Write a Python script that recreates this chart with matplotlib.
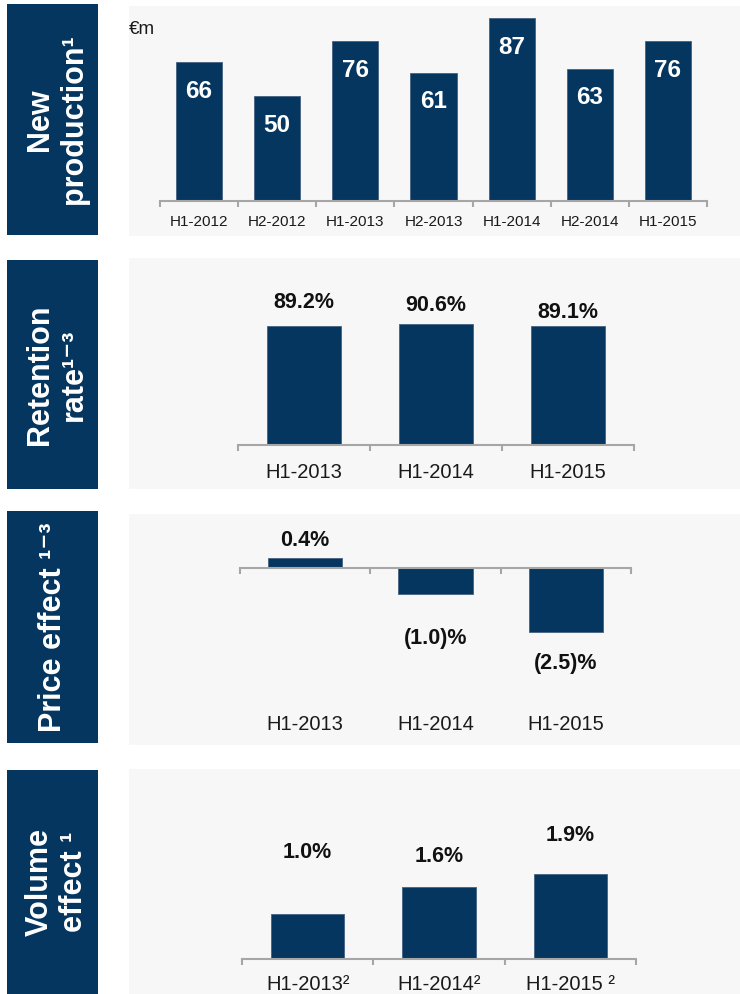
import matplotlib
matplotlib.use('Agg')
import matplotlib.pyplot as plt
from matplotlib.patches import Rectangle
import numpy as np

plt.rcParams['font.family'] = ['Liberation Sans', 'DejaVu Sans']

# ---------------- data ----------------
prod_cats = ['H1-2012', 'H2-2012', 'H1-2013', 'H2-2013', 'H1-2014', 'H2-2014', 'H1-2015']
prod_vals = [66, 50, 76, 61, 87, 63, 76]

ret_cats = ['H1-2013', 'H1-2014', 'H1-2015']
ret_vals = [89.2, 90.6, 89.1]

price_cats = ['H1-2013', 'H1-2014', 'H1-2015']
price_vals = [0.4, -1.0, -2.5]

vol_cats = ['H1-2013²', 'H1-2014²', 'H1-2015 ²']
vol_vals = [1.0, 1.6, 1.9]

NAVY = '#053660'
BG = '#F7F7F7'
AXC = '#A6A6A6'
W, H = 740, 994

fig = plt.figure(figsize=(W / 100, H / 100), dpi=100)


def px_rect(l, t, r, b, color):
    fig.add_artist(Rectangle((l / W, 1 - b / H), (r - l) / W, (b - t) / H,
                             transform=fig.transFigure, facecolor=color,
                             edgecolor='none', zorder=0))


def px_axes(l, t, r, b):
    ax = fig.add_axes([l / W, 1 - b / H, (r - l) / W, (b - t) / H])
    ax.patch.set_alpha(0)
    return ax


def side_label(t, b, text, x=57):
    px_rect(7, t, 98, b, NAVY)
    fig.text(x / W, 1 - (t + b) / 2 / H, text, rotation=90, color='white',
             fontsize=22, fontweight='bold', ha='center', va='center',
             multialignment='center', linespacing=1.2)


def style_axis(ax, n, cats, label_dy, fs, xy_frac=False):
    ax.set_xlim(-0.5, n - 0.5)
    for s in ['top', 'right', 'left']:
        ax.spines[s].set_visible(False)
    ax.spines['bottom'].set_position(('data', 0))
    ax.spines['bottom'].set_color(AXC)
    ax.spines['bottom'].set_linewidth(1.5)
    ax.set_yticks([])
    ax.set_xticks([])
    ax.set_xticks(np.arange(-0.5, n, 1.0), minor=True)
    ax.tick_params(axis='x', which='minor', direction='out', length=4,
                   width=1.5, color=AXC, labelbottom=False)
    for i, c in enumerate(cats):
        if xy_frac:
            ax.annotate(c, xy=(i, 0), xycoords=('data', 'axes fraction'),
                        xytext=(0, label_dy), textcoords='offset pixels',
                        ha='center', va='center', fontsize=fs, color='#1a1a1a')
        else:
            ax.annotate(c, xy=(i, 0), xytext=(0, label_dy),
                        textcoords='offset pixels', ha='center', va='center',
                        fontsize=fs, color='#1a1a1a')


# ---------------- panel 1: new production ----------------
px_rect(129, 6, 740, 236, BG)
side_label(4, 235, 'New\nproduction¹')
ax1 = px_axes(160, 6, 707, 201)
ax1.bar(range(len(prod_vals)), prod_vals, width=0.59, color=NAVY,
        edgecolor='#46627f', linewidth=0.6)
ax1.set_ylim(0, 195 / 2.1)
style_axis(ax1, len(prod_cats), prod_cats, -21, 11)
for i, v in enumerate(prod_vals):
    ax1.annotate(str(v), xy=(i, v), xytext=(0, -29), textcoords='offset pixels',
                 ha='center', va='center', color='white', fontsize=17.5,
                 fontweight='bold')
fig.text(129 / W, 1 - 30 / H, '€m', fontsize=13.5, ha='left', va='center',
         color='#1a1a1a')

# ---------------- panel 2: retention rate ----------------
px_rect(129, 258, 740, 489, BG)
side_label(260, 489, 'Retention\nrate¹⁻³')
ax2 = px_axes(238, 258, 634, 445)
ax2.bar(range(len(ret_vals)), ret_vals, width=0.56, color=NAVY,
        edgecolor='#46627f', linewidth=0.6)
ax2.set_ylim(0, 187 / 1.333)
style_axis(ax2, len(ret_cats), ret_cats, -27, 14.5)
ret_dy = [24, 19, 14]
for i, v in enumerate(ret_vals):
    ax2.annotate(f'{v:.1f}%', xy=(i, v), xytext=(0, ret_dy[i]),
                 textcoords='offset pixels', ha='center', va='center',
                 fontsize=15.5, fontweight='bold', color='#111111')

# ---------------- panel 3: price effect ----------------
px_rect(129, 514, 740, 745, BG)
side_label(511, 743, 'Price effect ¹⁻³', x=53)
ax3 = px_axes(240, 514, 631, 745)
ax3.bar(range(len(price_vals)), price_vals, width=0.57, color=NAVY,
        edgecolor='#46627f', linewidth=0.6)
sc3 = 25.5
ax3.set_ylim(-(745 - 568) / sc3, (568 - 514) / sc3)
style_axis(ax3, len(price_cats), price_cats, 20, 14.5, xy_frac=True)
price_dy = [17, -45, -32]
for i, v in enumerate(price_vals):
    txt = f'{v:.1f}%' if v >= 0 else f'({abs(v):.1f})%'
    ax3.annotate(txt, xy=(i, v), xytext=(0, price_dy[i]),
                 textcoords='offset pixels', ha='center', va='center',
                 fontsize=15.5, fontweight='bold', color='#111111')

# ---------------- panel 4: volume effect ----------------
px_rect(129, 769, 740, 994, BG)
side_label(770, 994, 'Volume\neffect ¹')
ax4 = px_axes(242, 769, 636, 959)
ax4.bar(range(len(vol_vals)), vol_vals, width=0.56, color=NAVY,
        edgecolor='#46627f', linewidth=0.6)
ax4.set_ylim(0, 190 / 45)
style_axis(ax4, len(vol_cats), vol_cats, -26, 14.5)
vol_dy = [62, 30, 38]
for i, v in enumerate(vol_vals):
    ax4.annotate(f'{v:.1f}%', xy=(i, v), xytext=(0, vol_dy[i]),
                 textcoords='offset pixels', ha='center', va='center',
                 fontsize=15.5, fontweight='bold', color='#111111')

fig.savefig('out.png', dpi=100, facecolor='white')
